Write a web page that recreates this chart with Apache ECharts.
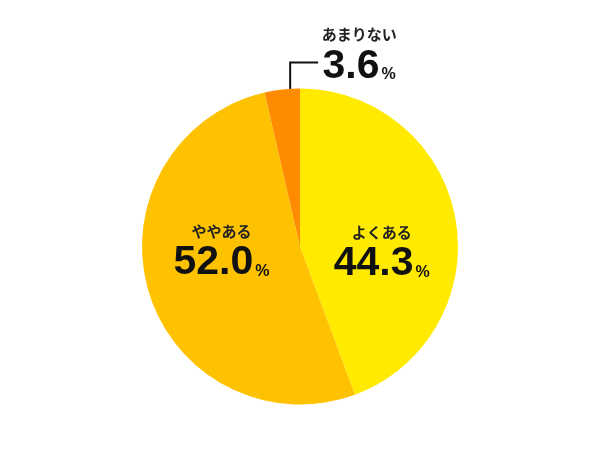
<!DOCTYPE html>
<html>
<head>
<meta charset="utf-8">
<script src="https://cdn.jsdelivr.net/npm/echarts@6/dist/echarts.min.js"></script>
<style>
  html, body { margin: 0; padding: 0; background: #fff; }
  #chart { width: 600px; height: 452px; }
</style>
</head>
<body>
<div id="chart"></div>
<script>
var categories = ['よくある', 'ややある', 'あまりない'];
var values = [44.3, 52.0, 3.6];
var colors = ['#FFEA00', '#FFC200', '#FF8C00'];

var chart = echarts.init(document.getElementById('chart'));

var numFont = '"Liberation Sans", Arial, sans-serif';
var jpFont = '"Noto Sans CJK JP", sans-serif';

var data = categories.map(function (name, i) {
    var item = { name: name, value: values[i], itemStyle: { color: colors[i] } };
    if (i === 1) {
        item.label = { offset: [0, -19] };
    } else if (i === 0) {
        item.label = { offset: [1, 20] };
    } else {
        item.label = { position: 'outside' };
        item.labelLine = { show: true, length: 10, length2: 10, lineStyle: { color: '#111', width: 2 } };
    }
    return item;
});

var option = {
    animation: false,
    series: [{
        type: 'pie',
        center: [300, 246.5],
        radius: [0, 158],
        startAngle: 90,
        clockwise: true,
        avoidLabelOverlap: false,
        itemStyle: { borderWidth: 0 },
        emphasis: { disabled: true },
        labelLine: { show: false },
        label: {
            show: true,
            position: 'inside',
            formatter: function (p) {
                return '{n|' + p.name + '}\n{v|' + p.value.toFixed(1) + '}{p|%}';
            },
            rich: {
                n: { fontFamily: jpFont, fontSize: 15, fontWeight: 'bold', color: '#222', lineHeight: 25 },
                v: { fontFamily: numFont, fontSize: 41, fontWeight: 'bold', color: '#111', lineHeight: 40, verticalAlign: 'bottom' },
                p: { fontFamily: numFont, fontSize: 16, fontWeight: 'bold', color: '#111', lineHeight: 40, verticalAlign: 'bottom', padding: [0, 0, 4, 2] }
            }
        },
        labelLayout: function (params) {
            if (params.dataIndex !== 2 || !params.labelLinePoints) return;
            var p = params.labelLinePoints[0];
            var lx = p[0] + 8;
            return {
                x: p[0] + 77,
                y: p[1] - 35,
                align: 'center',
                verticalAlign: 'middle',
                labelLinePoints: [[lx, p[1]], [lx, p[1] - 27], [lx + 28, p[1] - 27]]
            };
        },
        data: data
    }]
};

chart.setOption(option);
</script>
</body>
</html>
